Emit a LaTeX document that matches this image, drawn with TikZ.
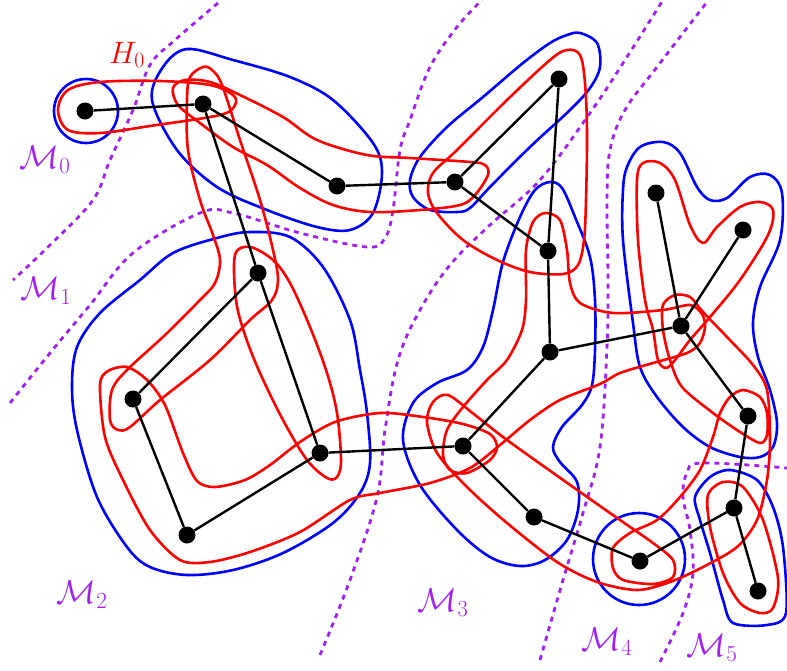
\RequirePackage{fix-cm}
\documentclass[tikz,border=0pt]{standalone}
\usetikzlibrary{calc}
\definecolor{purp}{RGB}{160,32,240}
\begin{document}
\begin{tikzpicture}[x=1pt,y=-1pt,
  dot/.style={circle,fill=black,inner sep=0pt,minimum size=17pt},
  edge/.style={black,line width=2.4pt},
  bl/.style={blue,line width=2.6pt},
  rd/.style={red,line width=2.6pt},
  sep/.style={purp,line width=2.8pt,dash pattern=on 5pt off 5pt},
  mlab/.style={purp,font=\fontsize{33}{35}\selectfont},
  hlab/.style={red,font=\fontsize{31}{33}\selectfont}]
\useasboundingbox (0,0) rectangle (787,670);
% separators
\draw[sep] plot[smooth,tension=0.6] coordinates {(218,3) (175,40) (150,65) (133,110) (110,160) (93,200) (50,245) (13,280)};
\draw[sep] plot[smooth,tension=0.6] coordinates {(10,403) (50,353) (90,305) (133,253) (200,213) (233,213) (300,233) (367,247) (385,238) (393,210) (400,150) (410,120) (430,67) (457,27) (482,0)};
\draw[sep] plot[smooth,tension=0.6] coordinates {(320,655) (350,580) (377,497) (385,430) (398,360) (420,310) (450,265) (490,225) (540,180) (590,113) (625,60) (663,0)};
\draw[sep] plot[smooth,tension=0.6] coordinates {(540,660) (563,580) (583,513) (600,447) (607,347) (608,280) (607,200) (610,150) (625,110) (657,67) (707,2)};
\draw[sep] plot[smooth,tension=0.6] coordinates {(660,662) (683,613) (693,573) (690,530) (683,497) (687,473) (702,463) (787,468)};
% blue clusters
\draw[bl] (86,111) circle[radius=32pt];
\draw[bl] plot[smooth cycle,tension=0.55] coordinates {(187,49) (233,60) (290,77) (333,100) (373,143) (382,173) (373,213) (350,230) (317,227) (267,210) (217,187) (177,150) (152,100) (163,67)};
\draw[bl] plot[smooth cycle,tension=0.55] coordinates {(580,33) (597,43) (600,67) (590,88) (570,110) (530,147) (490,187) (470,208) (457,212) (430,210) (413,197) (410,180) (420,157) (447,127) (483,97) (523,63) (550,43) (567,35)};
\draw[bl] plot[smooth cycle,tension=0.55] coordinates {(550,182) (562,188) (575,217) (590,257) (595,300) (595,350) (592,385) (582,405) (562,427) (553,447) (560,462) (577,482) (578,510) (567,540) (545,560) (520,566) (490,557) (457,530) (420,485) (403,440) (413,403) (437,383) (467,370) (483,347) (493,310) (503,262) (520,217) (535,190)};
\draw[bl] plot[smooth cycle,tension=0.55] coordinates {(250,232) (290,237) (323,267) (350,320) (360,370) (367,413) (370,463) (360,493) (333,523) (283,553) (233,570) (187,575) (150,567) (127,547) (97,497) (77,430) (72,387) (77,347) (100,313) (140,280) (173,253) (217,238)};
\draw[bl] plot[smooth cycle,tension=0.55] coordinates {(627,167) (640,147) (663,142) (680,153) (697,187) (710,200) (727,198) (750,177) (770,175) (782,193) (780,240) (760,287) (753,323) (758,357) (770,390) (777,423) (773,447) (760,457) (740,457) (710,447) (683,427) (657,397) (640,367) (633,323) (623,240) (623,190)};
\draw[bl] plot[smooth cycle,tension=0.5] coordinates {(695,497) (710,477) (730,470) (757,480) (773,507) (783,547) (786,613) (767,625) (733,623) (723,600) (710,553) (700,520)};
\draw[bl] (639,559) circle[radius=46pt];
% red loops
\draw[rd] plot[smooth cycle,tension=0.55] coordinates {(58,110) (68,90) (100,82) (160,81) (210,85) (233,95) (235,105) (220,115) (150,126) (100,133) (68,130)};
\draw[rd] plot[smooth cycle,tension=0.55] coordinates {(173,88) (185,80) (210,82) (240,95) (283,117) (317,140) (367,155) (410,158) (470,162) (485,165) (488,175) (475,195) (460,205) (420,210) (370,212) (333,205) (300,188) (267,165) (233,147) (200,123) (178,105)};
\draw[rd] plot[smooth cycle,tension=0.55] coordinates {(203,67) (190,77) (187,100) (188,150) (200,200) (213,235) (220,260) (215,283) (200,300) (165,335) (127,370) (112,390) (110,420) (118,430) (130,427) (160,400) (210,360) (250,320) (272,300) (278,280) (273,250) (260,200) (240,140) (222,85) (212,70)};
\draw[rd] plot[smooth cycle,tension=0.55] coordinates {(235,255) (250,247) (273,260) (290,283) (310,327) (327,373) (337,413) (341,460) (337,477) (327,478) (307,460) (283,420) (260,373) (245,335) (236,300)};
\draw[rd] plot[smooth cycle,tension=0.5] coordinates {(100,385) (108,371) (127,367) (147,380) (165,405) (183,453) (197,481) (215,487) (245,480) (270,465) (300,442) (335,422) (380,413) (423,417) (463,424) (490,434) (497,447) (490,460) (467,473) (450,470) (443,455) (447,430) (463,407) (487,380) (507,360) (522,330) (526,300) (526,250) (533,222) (545,213) (560,220) (567,250) (570,283) (580,303) (613,313) (663,310) (690,305) (702,314) (705,327) (700,343) (687,353) (653,363) (620,373) (600,384) (560,400) (530,420) (500,445) (470,468) (430,483) (380,493) (350,500) (300,532) (250,552) (210,562) (180,560) (150,530) (123,480) (105,437)};
\draw[rd] plot[smooth cycle,tension=0.55] coordinates {(437,213) (428,193) (433,173) (457,150) (507,100) (550,60) (567,50) (580,55) (585,83) (587,133) (586,200) (584,240) (578,265) (563,274) (530,272) (497,260) (463,240)};
\draw[rd] plot[smooth cycle,tension=0.55] coordinates {(643,163) (660,163) (675,180) (690,225) (703,243) (717,227) (740,207) (760,202) (773,210) (768,235) (740,280) (710,317) (690,340) (675,360) (666,368) (658,360) (653,330) (645,300) (638,240) (637,180)};
\draw[rd] plot[smooth cycle,tension=0.5] coordinates {(448,395) (475,415) (507,440) (573,487) (620,520) (653,543) (673,560) (673,577) (653,584) (623,580) (613,568) (613,548) (630,533) (657,520) (680,497) (700,470) (713,437) (720,413) (730,397) (743,390) (760,397) (767,413) (767,435) (760,443) (740,432) (713,413) (682,387) (670,360) (663,330) (663,305) (675,295) (690,297) (703,312) (727,337) (753,365) (767,390) (770,440) (767,480) (757,520) (737,547) (703,567) (670,582) (637,590) (597,582) (557,562) (507,523) (467,487) (437,453) (427,422) (433,402)};
\draw[rd] plot[smooth cycle,tension=0.5] coordinates {(708,495) (723,482) (743,487) (763,520) (778,578) (773,608) (760,613) (740,603) (723,573) (710,527)};
% graph
\node[dot] (n1) at (85,111) {};
\node[dot] (n2) at (203,104) {};
\node[dot] (n3) at (337,186) {};
\node[dot] (n4) at (455,182) {};
\node[dot] (n5) at (559,79) {};
\node[dot] (n6) at (548,251) {};
\node[dot] (n7) at (550,352) {};
\node[dot] (n8) at (681,326) {};
\node[dot] (n9) at (656,193) {};
\node[dot] (n10) at (743,230) {};
\node[dot] (n11) at (748,416) {};
\node[dot] (n12) at (734,508) {};
\node[dot] (n13) at (758,591) {};
\node[dot] (n14) at (640,561) {};
\node[dot] (n15) at (534,517) {};
\node[dot] (n16) at (463,446) {};
\node[dot] (n17) at (320,453) {};
\node[dot] (n18) at (187,535) {};
\node[dot] (n19) at (133,399) {};
\node[dot] (n20) at (258,273) {};
\foreach \a/\b in {n1/n2,n2/n3,n3/n4,n4/n5,n4/n6,n5/n6,n6/n7,n7/n8,n7/n16,n8/n9,n8/n10,n8/n11,n11/n12,n12/n13,n12/n14,n14/n15,n15/n16,n16/n17,n17/n18,n18/n19,n19/n20,n20/n2,n20/n17}
  \draw[edge] (\a) -- (\b);
% labels
\node[hlab] (h0) at (127,55) {$H_0$};
\node[mlab] (m0) at (45,160) {$\mathcal{M}_0$};
\node[mlab] (m1) at (46,291) {$\mathcal{M}_1$};
\node[mlab] (m2) at (82,595) {$\mathcal{M}_2$};
\node[mlab] (m3) at (443,603) {$\mathcal{M}_3$};
\node[mlab] (m4) at (607,642) {$\mathcal{M}_4$};
\node[mlab] (m5) at (712,648) {$\mathcal{M}_5$};
\end{tikzpicture}
\end{document}
